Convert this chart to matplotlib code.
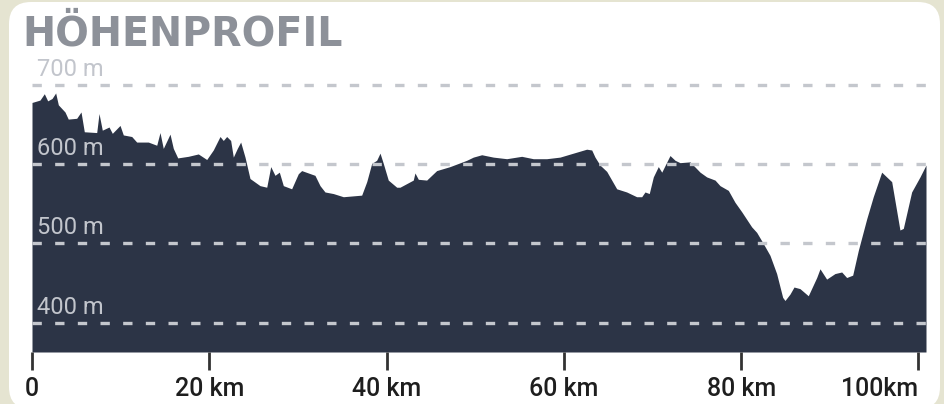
import matplotlib.pyplot as plt
from matplotlib.patches import FancyBboxPatch

# elevation profile (km, m)
km = [0.0, 0.90, 1.39, 1.77, 2.26, 2.67, 2.97, 3.72, 4.09, 5.04, 5.53, 5.90,
      7.30, 7.56, 7.93, 8.69, 9.06, 9.93, 10.30, 11.25, 11.81, 13.12, 14.07,
      14.44, 14.81, 15.57, 15.94, 16.44, 17.63, 18.76, 19.71, 20.45, 21.21,
      21.58, 21.96, 22.41, 22.71, 23.16, 23.54, 24.03, 24.59, 25.72, 26.48,
      26.93, 27.41, 27.90, 28.35, 29.29, 30.04, 30.42, 31.92, 32.49, 33.05,
      33.99, 35.12, 37.19, 37.76, 38.32, 38.88, 39.26, 39.63, 40.19, 41.14,
      41.51, 43.01, 43.20, 43.58, 44.52, 45.65, 47.15, 49.04, 49.78, 50.73,
      52.04, 53.55, 55.24, 56.55, 58.06, 59.56, 61.06, 62.57, 63.14, 63.51,
      64.07, 64.83, 65.96, 67.08, 68.21, 68.78, 69.15, 69.63, 70.09, 70.65,
      71.04, 71.97, 72.54, 73.10, 74.23, 75.36, 76.11, 77.05, 77.61, 78.55,
      79.30, 80.06, 81.18, 81.75, 82.49, 83.25, 84.00, 84.68, 84.94, 85.50,
      85.96, 86.63, 87.57, 88.52, 88.89, 89.64, 90.58, 91.34, 91.90, 92.58,
      93.21, 94.16, 94.90, 95.85, 96.41, 96.98, 97.91, 98.29, 99.23, 100.17,
      100.85]
elev = [678, 681, 689, 680, 683, 690, 675, 666, 657, 658, 666, 641,
        640, 664, 643, 647, 639, 649, 637, 635, 628, 628, 624,
        640, 620, 638, 620, 608, 610, 613, 606, 618, 635,
        630, 635, 630, 609, 620, 628, 609, 582, 573, 571,
        597, 586, 590, 573, 569, 588, 592, 586, 573, 565,
        563, 559, 561, 578, 601, 605, 614, 601, 580, 571,
        571, 580, 589, 581, 580, 592, 597, 605, 609, 612,
        609, 607, 610, 607, 607, 609, 614, 619, 618, 609,
        599, 591, 569, 565, 559, 559, 565, 563, 584, 597,
        590, 611, 605, 602, 603, 590, 584, 580, 573, 567,
        552, 540, 521, 514, 500, 485, 462, 432, 428, 436,
        445, 443, 434, 457, 468, 455, 462, 464, 457, 460,
        491, 531, 559, 590, 584, 578, 517, 519, 565, 584,
        599]

grid_levels = [400, 500, 600, 700]
grid_labels = ["400 m", "500 m", "600 m", "700 m"]
tick_km = [0, 20, 40, 60, 80, 100]
tick_labels = ["0", "20 km", "40 km", "60 km", "80 km", "100km"]

W, H = 945, 404
fig = plt.figure(figsize=(W / 100, H / 100), dpi=100)
fig.patch.set_facecolor("#e5e4d1")

# white card with rounded corners, in inches
card = FancyBboxPatch((0.09, -0.05), 9.31, 4.07,
                      boxstyle="round,pad=0,rounding_size=0.22",
                      transform=fig.dpi_scale_trans,
                      facecolor="white", edgecolor="none", zorder=-10)
fig.patches.append(card)

fig.text(22 / W, 1 - 46 / H, "HÖHENPROFIL", fontsize=28.5, fontweight="bold",
         color="#8d9199", family="DejaVu Sans", ha="left", va="baseline")

y_floor = 363
ax = fig.add_axes([32 / W, 1 - 352 / H, (926 - 32) / W, (352 - 60) / H])
ax.set_facecolor("none")
ax.fill_between(km, elev, y_floor, color="#2c3446", lw=0, zorder=1)
ax.set_xlim(0, 100.85)
ax.set_ylim(y_floor, 731.6)

for lvl, lab in zip(grid_levels, grid_labels):
    ax.axhline(lvl, color="#c4c7cd", lw=2.4, dashes=(2.8, 4.0), zorder=2)
    ax.annotate(lab, (0.55, lvl), xytext=(0, 3), textcoords="offset points",
                fontsize=17, color="#c2c5cc", family="Roboto",
                ha="left", va="bottom", zorder=3)

for s in ax.spines.values():
    s.set_visible(False)
ax.set_yticks([])
ax.set_xticks(tick_km)
ax.set_xticklabels(tick_labels, family="Roboto", fontweight="medium",
                   fontsize=18, color="#1e1e1e")
ax.get_xticklabels()[-1].set_ha("right")
ax.tick_params(axis="x", length=13, width=2, color="#333333", pad=5)

fig.savefig("out.png", dpi=100)
